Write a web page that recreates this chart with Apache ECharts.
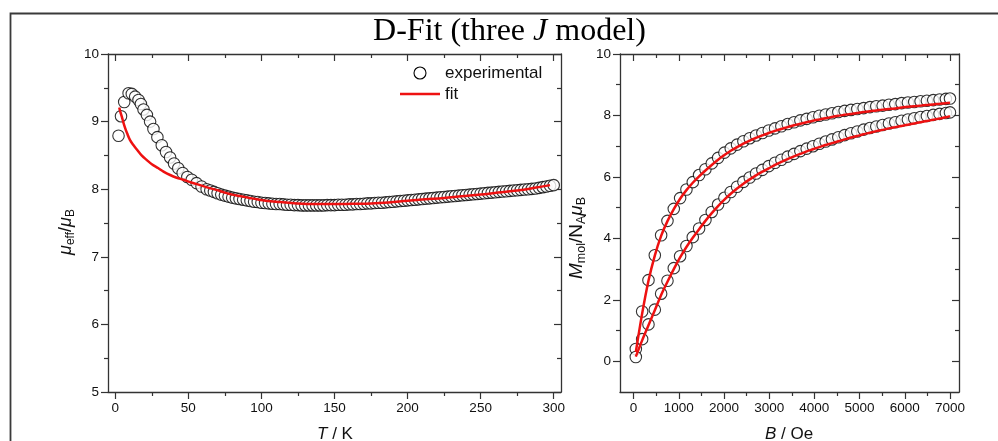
<!DOCTYPE html>
<html><head><meta charset="utf-8">
<script src="https://cdn.jsdelivr.net/npm/echarts@6/dist/echarts.min.js"></script>
<style>html,body{margin:0;padding:0;background:#fff}#c{width:998px;height:441px}</style>
</head><body><div id="c"></div>
<script>
// ---- left panel: mu_eff vs T ----
const expT = [2.2,3.9,6.1,9.1,11.3,13.6,15.9,17.5,19.3,21.6,23.8,26.1,28.8,31.8,34.7,37.5,40.2,43.1,46.1,49.3,52.3,55.6,59.0,
  62.5,65,67.5,70,72.5,75,77.5,80,82.5,85,
  87.5,90,92.5,95,97.5,100,102.5,105,107.5,110,
  112.5,115,117.5,120,122.5,125,127.5,130,132.5,135,
  137.5,140,142.5,145,147.5,150,152.5,155,157.5,160,
  162.5,165,167.5,170,172.5,175,177.5,180,182.5,185,
  187.5,190,192.5,195,197.5,200,202.5,205,207.5,210,
  212.5,215,217.5,220,222.5,225,227.5,230,232.5,235,
  237.5,240,242.5,245,247.5,250,252.5,255,257.5,260,
  262.5,265,267.5,270,272.5,275,277.5,280,282.5,285,
  287.5,290,292.5,295,297.5,300];
const expMu = [8.79,9.08,9.29,9.42,9.41,9.37,9.32,9.26,9.18,9.10,9.00,8.89,8.77,8.65,8.55,8.47,8.38,8.31,8.24,8.18,8.14,8.09,8.04,
  8.00,7.98,7.96,7.94,7.92,7.905,7.89,7.875,7.865,7.855,
  7.845,7.835,7.825,7.815,7.81,7.80,7.795,7.79,7.785,7.78,
  7.78,7.775,7.77,7.77,7.765,7.765,7.76,7.76,7.76,7.76,
  7.76,7.76,7.76,7.765,7.765,7.765,7.77,7.77,7.77,7.775,
  7.775,7.78,7.78,7.785,7.79,7.79,7.795,7.80,7.80,7.805,
  7.81,7.815,7.82,7.825,7.83,7.835,7.84,7.845,7.85,7.855,
  7.86,7.865,7.87,7.875,7.88,7.885,7.89,7.895,7.90,7.905,
  7.91,7.915,7.92,7.925,7.93,7.935,7.94,7.945,7.95,7.955,
  7.96,7.965,7.97,7.975,7.98,7.985,7.99,7.995,8.00,8.005,
  8.01,8.02,8.03,8.04,8.05,8.06];
const fitT = [2.7,3.5,4.5,5.5,6.8,8,10,12.5,15,18,21.6,25,29.5,33,37.5,42,46.5,52,58,64,69,75,80,86,92,97,103,113,124,137,150,162,175,187,200,212,225,237,250,262,275,287,297.5];
const fitMu = [9.21,9.14,9.07,8.99,8.90,8.83,8.73,8.65,8.58,8.50,8.43,8.37,8.31,8.26,8.21,8.17,8.14,8.10,8.06,8.02,7.99,7.95,7.92,7.895,7.87,7.85,7.83,7.81,7.79,7.78,7.78,7.785,7.79,7.805,7.83,7.85,7.87,7.895,7.92,7.95,7.98,8.02,8.06];

// ---- right panel: M vs B ----
const fieldB = [50,190,330,470,610,750,890,1030,1170,1310,
  1450,1590,1730,1870,2010,2150,2290,2430,2570,2710,
  2850,2990,3130,3270,3410,3550,3690,3830,3970,4110,
  4250,4390,4530,4670,4810,4950,5090,5230,5370,5510,
  5650,5790,5930,6070,6210,6350,6490,6630,6770,6910,7000];
const magUpper = [0.40,1.62,2.64,3.45,4.10,4.57,4.96,5.31,5.59,5.83,
  6.06,6.25,6.44,6.62,6.79,6.93,7.05,7.16,7.26,7.35,
  7.43,7.51,7.58,7.65,7.72,7.78,7.84,7.89,7.94,7.99,
  8.03,8.07,8.11,8.15,8.18,8.21,8.24,8.27,8.30,8.32,
  8.35,8.37,8.40,8.42,8.44,8.46,8.48,8.50,8.52,8.54,8.55];
const magLower = [0.14,0.72,1.20,1.68,2.20,2.62,3.03,3.42,3.75,4.04,
  4.32,4.60,4.86,5.10,5.32,5.51,5.68,5.84,5.98,6.11,
  6.23,6.35,6.46,6.56,6.66,6.75,6.84,6.92,7.00,7.08,
  7.15,7.22,7.29,7.36,7.42,7.48,7.54,7.59,7.64,7.69,
  7.74,7.78,7.83,7.87,7.91,7.95,7.98,8.02,8.05,8.08,8.10];
const fitUpper = [0.30,1.55,2.62,3.44,4.08,4.56,4.95,5.29,5.57,5.81,
  6.02,6.21,6.39,6.56,6.71,6.85,6.97,7.08,7.18,7.27,
  7.35,7.43,7.50,7.56,7.62,7.68,7.73,7.78,7.83,7.87,
  7.91,7.95,7.99,8.02,8.05,8.08,8.11,8.14,8.16,8.19,
  8.21,8.23,8.26,8.28,8.30,8.32,8.34,8.36,8.38,8.40,8.41];
const fitLower = [0.15,0.68,1.17,1.66,2.16,2.59,3.00,3.38,3.72,4.02,
  4.30,4.57,4.82,5.05,5.26,5.45,5.62,5.78,5.92,6.05,
  6.17,6.28,6.39,6.49,6.58,6.67,6.75,6.83,6.90,6.97,
  7.04,7.10,7.16,7.22,7.28,7.33,7.39,7.44,7.49,7.53,
  7.58,7.62,7.66,7.70,7.74,7.78,7.82,7.86,7.90,7.94,7.98];

// ---- tick values ----
const tMajor = [0,50,100,150,200,250,300];
const tMinor = [25,75,125,175,225,275];
const muMajor = [5,6,7,8,9,10];
const muMinor = [5.5,6.5,7.5,8.5,9.5];
const bMajor = [0,1000,2000,3000,4000,5000,6000,7000];
const bMinor = [500,1500,2500,3500,4500,5500,6500];
const mMajor = [0,2,4,6,8,10];
const mMinor = [1,3,5,7,9];

// ---- legend labels ----
const legendNames = ['experimental', 'fit'];

const AX = '#333';
const FONT = 'Liberation Sans, Arial, sans-serif';
const RED = '#ee1111';

function axisSet(g, min, max, interval, major, minor, posOut, posIn, margin) {
  const mk = (pos, inside, vals, len, line, label) => ({
    gridIndex: g, type: 'value', min: min, max: max, interval: interval, position: pos,
    splitLine: {show: false},
    axisLine: {show: line, onZero: false, lineStyle: {color: AX, width: 1.3}},
    axisTick: {show: true, inside: inside, length: len, customValues: vals, lineStyle: {color: AX, width: 1.2}},
    axisLabel: {show: label, customValues: vals, margin: margin, color: '#111', fontSize: 13.5, fontFamily: FONT,
                formatter: v => String(v)}
  });
  return [
    mk(posOut, false, major, 7, true, true),
    mk(posOut, false, minor, 4, false, false),
    mk(posIn, true, major, 7, true, false),
    mk(posIn, true, minor, 4, false, false)
  ];
}

const xAxes = [].concat(
  axisSet(0, -5, 305, 5, tMajor, tMinor, 'bottom', 'top', 9),
  axisSet(1, -300, 7200, 100, bMajor, bMinor, 'bottom', 'top', 9)
);
const yAxes = [].concat(
  axisSet(0, 5, 10, 0.5, muMajor, muMinor, 'left', 'right', 9),
  axisSet(1, -1, 10, 1, mMajor, mMinor, 'left', 'right', 9)
);

const circleStyle = {color: '#fff', borderColor: '#000', borderWidth: 1.1};
const redLine = {color: RED, width: 2.5};
const pair = (xs, ys) => xs.map((x, i) => [x, ys[i]]);

const chart = echarts.init(document.getElementById('c'), null, {renderer: 'canvas'});
chart.setOption({
  animation: false,
  backgroundColor: '#fff',
  grid: [
    {left: 108, top: 54, width: 453, height: 338},
    {left: 620, top: 54, width: 339, height: 338}
  ],
  xAxis: xAxes,
  yAxis: yAxes,
  series: [
    {name: legendNames[0], type: 'scatter', xAxisIndex: 0, yAxisIndex: 0, symbol: 'circle', symbolSize: 11.5,
     itemStyle: circleStyle, data: pair(expT, expMu), z: 2},
    {name: legendNames[1], type: 'line', xAxisIndex: 0, yAxisIndex: 0, showSymbol: false, symbol: 'none', smooth: 0.4,
     lineStyle: redLine, itemStyle: {color: RED}, data: pair(fitT, fitMu), z: 3},
    {name: 'M upper', type: 'scatter', xAxisIndex: 4, yAxisIndex: 4, symbol: 'circle', symbolSize: 11.5,
     itemStyle: circleStyle, data: pair(fieldB, magUpper), z: 2},
    {name: 'M lower', type: 'scatter', xAxisIndex: 4, yAxisIndex: 4, symbol: 'circle', symbolSize: 11.5,
     itemStyle: circleStyle, data: pair(fieldB, magLower), z: 2},
    {name: 'fit upper', type: 'line', xAxisIndex: 4, yAxisIndex: 4, showSymbol: false, symbol: 'none', smooth: 0.3,
     lineStyle: redLine, data: pair(fieldB, fitUpper), z: 3},
    {name: 'fit lower', type: 'line', xAxisIndex: 4, yAxisIndex: 4, showSymbol: false, symbol: 'none', smooth: 0.3,
     lineStyle: redLine, data: pair(fieldB, fitLower), z: 3}
  ],
  graphic: [
    {type: 'rect', left: 8, top: 11, silent: true, z: 0,
     shape: {x: 0, y: 0, width: 1200, height: 600},
     style: {fill: 'none', stroke: '#3a3a3a', lineWidth: 1.8}},
    {type: 'text', x: 509.5, y: 32, silent: true,
     style: {text: '{a|D-Fit (three }{j|J}{a| model)}', align: 'center', verticalAlign: 'middle',
       rich: {a: {fontFamily: 'Liberation Serif', fontSize: 32, fill: '#000'},
              j: {fontFamily: 'Liberation Serif', fontSize: 32, fontStyle: 'italic', fill: '#000'}}}},
    // legend
    {type: 'circle', silent: true, z: 10, shape: {cx: 420, cy: 73, r: 6},
     style: {fill: '#fff', stroke: '#000', lineWidth: 1.1}},
    {type: 'text', x: 445, y: 73, silent: true, z: 10,
     style: {text: legendNames[0], fontFamily: FONT, fontSize: 17, fill: '#111', align: 'left', verticalAlign: 'middle'}},
    {type: 'line', silent: true, z: 10, shape: {x1: 400, y1: 94, x2: 440, y2: 94},
     style: {stroke: RED, lineWidth: 2.5}},
    {type: 'text', x: 445, y: 94, silent: true, z: 10,
     style: {text: legendNames[1], fontFamily: FONT, fontSize: 17, fill: '#111', align: 'left', verticalAlign: 'middle'}},
    // axis names
    {type: 'text', x: 335, y: 434, silent: true,
     style: {text: '{i|T}{n| / K}', align: 'center', verticalAlign: 'middle',
       rich: {i: {fontFamily: FONT, fontSize: 17, fontStyle: 'italic', fill: '#111'},
              n: {fontFamily: FONT, fontSize: 17, fill: '#111'}}}},
    {type: 'text', x: 789, y: 434, silent: true,
     style: {text: '{i|B}{n| / Oe}', align: 'center', verticalAlign: 'middle',
       rich: {i: {fontFamily: FONT, fontSize: 17, fontStyle: 'italic', fill: '#111'},
              n: {fontFamily: FONT, fontSize: 17, fill: '#111'}}}},
    {type: 'text', x: 66, y: 232, rotation: Math.PI / 2, silent: true,
     style: {text: '{i|μ}{s|eff}{n|/}{i|μ}{s|B}', align: 'center', verticalAlign: 'middle',
       rich: {i: {fontFamily: FONT, fontSize: 18, fontStyle: 'italic', fill: '#111', lineHeight: 22, verticalAlign: 'middle'},
              n: {fontFamily: FONT, fontSize: 18, fill: '#111', lineHeight: 22, verticalAlign: 'middle'},
              s: {fontFamily: FONT, fontSize: 12, fill: '#111', lineHeight: 11, verticalAlign: 'bottom'}}}},
    {type: 'text', x: 577, y: 238, rotation: Math.PI / 2, silent: true,
     style: {text: '{i|M}{s|mol}{n|/N}{s|A}{i|μ}{s|B}', align: 'center', verticalAlign: 'middle',
       rich: {i: {fontFamily: FONT, fontSize: 19, fontStyle: 'italic', fill: '#111', lineHeight: 23, verticalAlign: 'middle'},
              n: {fontFamily: FONT, fontSize: 19, fill: '#111', lineHeight: 23, verticalAlign: 'middle'},
              s: {fontFamily: FONT, fontSize: 12.5, fill: '#111', lineHeight: 11, verticalAlign: 'bottom'}}}}
  ]
});
</script>
</body></html>
